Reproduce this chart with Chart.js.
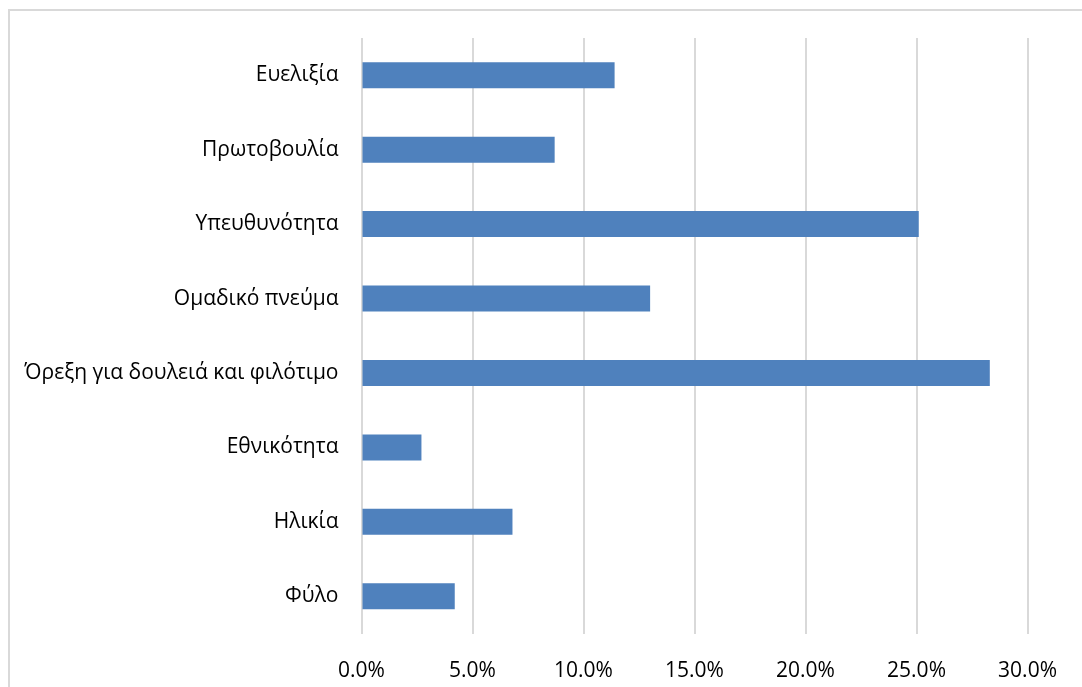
<!DOCTYPE html>
<html>
<head>
<meta charset="utf-8">
<script src="https://cdn.jsdelivr.net/npm/chart.js@4/dist/chart.umd.min.js"></script>
<style>
  html, body { margin: 0; padding: 0; background: #fff; overflow: hidden; }
  #wrap { position: relative; width: 1082px; height: 687px; }
  #frame { position: absolute; left: 8px; top: 9px; width: 1200px; height: 800px; border: 2px solid #d9d9d9; box-sizing: border-box; }
  #box { position: absolute; left: 0; top: 0; width: 1082px; height: 687px; }
</style>
</head>
<body>
<div id="wrap">
  <div id="frame"></div>
  <div id="box"><canvas id="c"></canvas></div>
</div>
<script>
const categories = ["Ευελιξία", "Πρωτοβουλία", "Υπευθυνότητα", "Ομαδικό πνεύμα", "Όρεξη για δουλειά και φιλότιμο", "Εθνικότητα", "Ηλικία", "Φύλο"];
const values = [11.4, 8.7, 25.1, 13.0, 28.3, 2.7, 6.8, 4.2];
const xTicks = [0, 5, 10, 15, 20, 25, 30];

new Chart(document.getElementById('c'), {
  type: 'bar',
  data: {
    labels: categories,
    datasets: [{
      data: values,
      backgroundColor: '#4f81bd',
      borderWidth: 0,
      barPercentage: 0.35,
      categoryPercentage: 1.0
    }]
  },
  options: {
    indexAxis: 'y',
    responsive: true,
    maintainAspectRatio: false,
    animation: false,
    layout: { padding: { top: 38, right: 50, left: 0, bottom: 0 } },
    plugins: { legend: { display: false }, tooltip: { enabled: false } },
    scales: {
      x: {
        min: xTicks[0],
        max: xTicks[xTicks.length - 1],
        afterBuildTicks: (s) => { s.ticks = xTicks.map(v => ({ value: v })); },
        afterFit: (s) => { s.height = 53.5; },
        grid: { color: '#d9d9d9', lineWidth: 2, drawTicks: false },
        border: { display: false },
        ticks: {
          padding: 25,
          color: '#000',
          font: { family: 'Open Sans', size: 21 },
          callback: (v) => Number(v).toFixed(1) + '%'
        }
      },
      y: {
        afterFit: (s) => { s.width = 361.5; },
        grid: { display: false, drawTicks: false },
        border: { display: false },
        ticks: {
          padding: 23,
          color: '#000',
          font: { family: 'Open Sans', size: 21 }
        }
      }
    }
  }
});
</script>
</body>
</html>
